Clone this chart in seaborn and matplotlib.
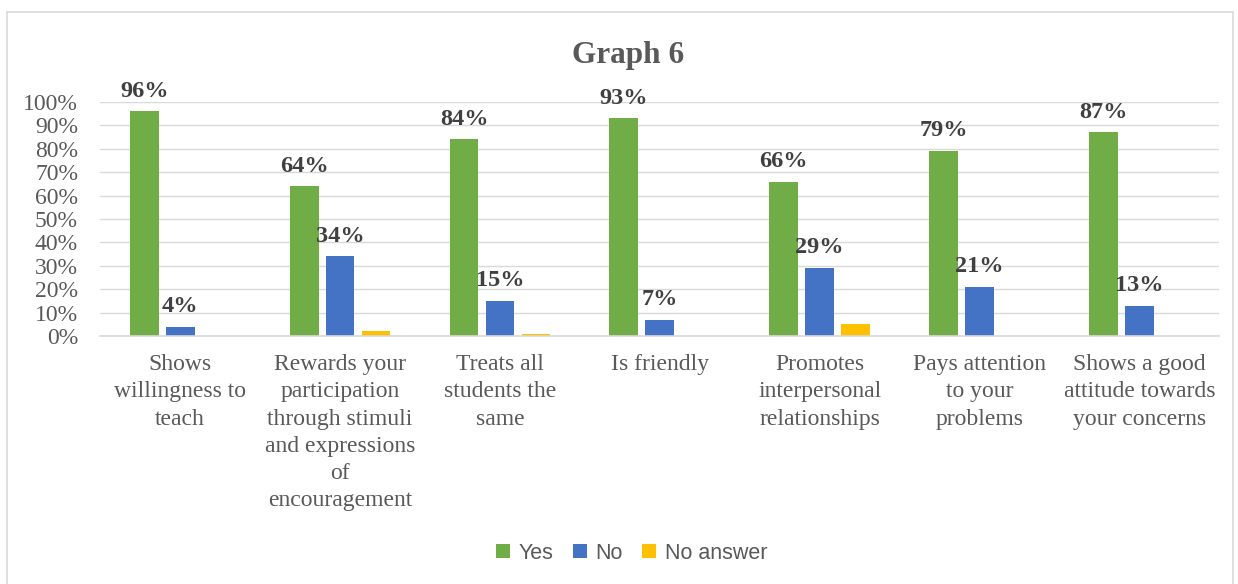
import matplotlib
matplotlib.use("Agg")
import matplotlib.pyplot as plt
from matplotlib.patches import Rectangle
from matplotlib.ticker import PercentFormatter
import seaborn as sns
import pandas as pd

categories = [
    "Shows\nwillingness to\nteach",
    "Rewards your\nparticipation\nthrough stimuli\nand expressions\nof\nencouragement",
    "Treats all\nstudents the\nsame",
    "Is friendly",
    "Promotes\ninterpersonal\nrelationships",
    "Pays attention\nto your\nproblems",
    "Shows a good\nattitude towards\nyour concerns",
]
yes = [96, 64, 84, 93, 66, 79, 87]
no = [4, 34, 15, 7, 29, 21, 13]
no_answer = [0, 2, 1, 0, 5, 0, 0]
series = ["Yes", "No", "No answer"]
colors = ["#70AD47", "#4472C4", "#FFC000"]

df = pd.DataFrame({
    "category": categories * 3,
    "series": [series[0]] * 7 + [series[1]] * 7 + [series[2]] * 7,
    "value": [v / 100 for v in yes + no + no_answer],
})

sns.set_theme(style="white")
plt.rcParams["font.family"] = ["Liberation Serif", "DejaVu Serif"]

fig = plt.figure(figsize=(12.38, 5.84), dpi=100)
ax = fig.add_axes([0.081, 0.4247, 0.904, 0.4006])

sns.barplot(data=df, x="category", y="value", hue="series", hue_order=series,
            palette=colors, width=0.675, gap=0.2, ax=ax, legend=True,
            saturation=1, linewidth=0)

ax.set_ylim(0, 1.0)
ax.set_xlim(-0.5, 6.5)
ax.set_yticks([i / 10 for i in range(11)])
ax.yaxis.set_major_formatter(PercentFormatter(1.0, decimals=0))
ax.grid(axis="y", color="#D9D9D9", linewidth=1)
ax.set_axisbelow(True)
for s in ["top", "right", "left"]:
    ax.spines[s].set_visible(False)
ax.spines["bottom"].set_color("#D9D9D9")
ax.spines["bottom"].set_linewidth(1.2)
ax.tick_params(axis="y", length=0, pad=16, labelsize=17, labelcolor="#595959")
ax.tick_params(axis="x", length=0, pad=13, labelsize=17, labelcolor="#595959")
for lab in ax.get_xticklabels():
    lab.set_linespacing(1.39)
    lab.set_verticalalignment("top")
ax.set_xlabel("")
ax.set_ylabel("")

# value labels for Yes and No bars
for container, name in zip(ax.containers, series):
    if name == "No answer":
        continue
    for bar in container:
        h = bar.get_height()
        ax.annotate(f"{round(h * 100):d}%",
                    (bar.get_x() + bar.get_width() / 2, h),
                    xytext=(0, 7), textcoords="offset points",
                    ha="center", va="bottom", fontsize=17.5,
                    fontweight="bold", color="#404040", clip_on=False)

leg = ax.get_legend()
handles = leg.legend_handles
leg.remove()
fig.legend(handles, series, loc="center", bbox_to_anchor=(0.51, 0.053),
           ncol=3, frameon=False, handlelength=0.65, handleheight=0.65,
           handletextpad=0.4, columnspacing=0.9,
           prop={"family": "Liberation Sans", "size": 15.5}, labelcolor="#595959")

fig.text(0.507, 0.905, "Graph 6", ha="center", va="center",
         fontsize=22.5, fontweight="bold", color="#595959")

fig.patches.append(Rectangle((0.006, -0.01), 0.99, 0.99, transform=fig.transFigure,
                             fill=False, edgecolor="#D9D9D9", linewidth=1.2))

fig.savefig("out.png", dpi=100)
